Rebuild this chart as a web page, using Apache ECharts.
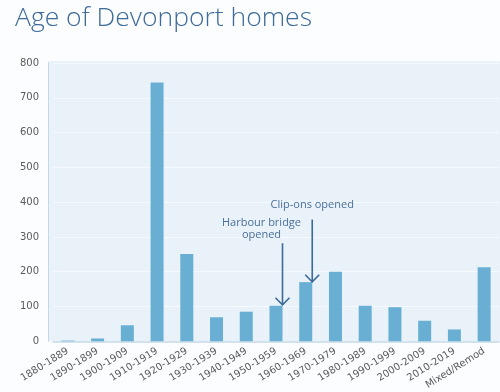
<!DOCTYPE html>
<html><head><meta charset="utf-8">
<script src="https://cdn.jsdelivr.net/npm/echarts@6/dist/echarts.min.js"></script>
<style>html,body{margin:0;padding:0;background:#fbfdfe;}#c{width:500px;height:392px;}</style>
</head><body><div id="c"></div>
<script>
const categories = ['1880-1889','1890-1899','1900-1909','1910-1919','1920-1929','1930-1939','1940-1949','1950-1959','1960-1969','1970-1979','1980-1989','1990-1999','2000-2009','2010-2019','Mixed/Remod'];
const homes = [2, 8, 46, 744, 251, 69, 85, 102, 170, 200, 102, 98, 59, 34, 213];
const yTicks = [0, 100, 200, 300, 400, 500, 600, 700, 800];
const annotations = [
  {cat: '1950-1959', from: 282, to: 105, text: 'Harbour bridge\nopened', textValue: 323, textShift: -21},
  {cat: '1960-1969', from: 350, to: 171, text: 'Clip-ons opened', textValue: 393, textShift: 0}
];

const chart = echarts.init(document.getElementById('c'), null, {renderer: 'canvas'});
const BAR_W = 13;
const option = {
  backgroundColor: '#fbfdfe',
  animation: false,
  title: {
    text: 'Age of Devonport homes', left: 10, top: 0,
    textStyle: {fontFamily: 'Open Sans', fontWeight: 300, fontSize: 26.5, color: '#3f6b99'}
  },
  grid: {left: 53, right: 1, top: 63, bottom: 48, containLabel: false},
  xAxis: {
    type: 'category', data: categories,
    axisLine: {show: true, lineStyle: {color: '#c5d9e8', width: 1.5}},
    axisTick: {show: false},
    axisLabel: {rotate: 32, interval: 0, margin: 9, fontFamily: 'DejaVu Sans', fontSize: 10, color: '#5a5a5a'}
  },
  yAxis: {
    type: 'value', min: yTicks[0], max: yTicks[yTicks.length - 1], interval: 100,
    offset: 5,
    axisLine: {show: true, lineStyle: {color: '#c5d6e4'}},
    axisTick: {show: false},
    splitLine: {lineStyle: {color: '#f6f9fd', width: 1}},
    axisLabel: {margin: 9, fontFamily: 'DejaVu Sans', fontSize: 10, color: '#5a5a5a'}
  },
  series: [{
    type: 'bar', data: homes, barWidth: BAR_W,
    itemStyle: {color: '#69afd3'}, z: 3
  }]
};
chart.setOption(option);

const top0 = chart.convertToPixel({yAxisIndex: 0}, yTicks[yTicks.length - 1]);
const bottom0 = chart.convertToPixel({yAxisIndex: 0}, 0);
const graphics = [{
  type: 'rect', z: -1, silent: true,
  shape: {x: 48, y: top0 - 2, width: 452, height: bottom0 - top0 + 2},
  style: {fill: '#e9f1f9'}
}];
annotations.forEach(a => {
  const p1 = chart.convertToPixel({seriesIndex: 0}, [a.cat, a.from]);
  const p2 = chart.convertToPixel({seriesIndex: 0}, [a.cat, a.to]);
  const pt = chart.convertToPixel({seriesIndex: 0}, [a.cat, a.textValue]);
  const x = p1[0] + BAR_W / 2;
  graphics.push({type: 'line', z: 10, shape: {x1: x, y1: p1[1], x2: x, y2: p2[1]}, style: {stroke: '#3d6a97', lineWidth: 1.6}});
  graphics.push({type: 'polyline', z: 10, shape: {points: [[x - 7, p2[1] - 7], [x, p2[1]], [x + 7, p2[1] - 7]]}, style: {stroke: '#3d6a97', lineWidth: 1.6, fill: null}});
  graphics.push({type: 'text', z: 10, style: {
    text: a.text, x: x + a.textShift, y: pt[1], align: 'center', verticalAlign: 'middle',
    font: '11px "Open Sans"', fill: '#4a7099', lineHeight: 12
  }});
});
chart.setOption({graphic: graphics});
</script></body></html>
